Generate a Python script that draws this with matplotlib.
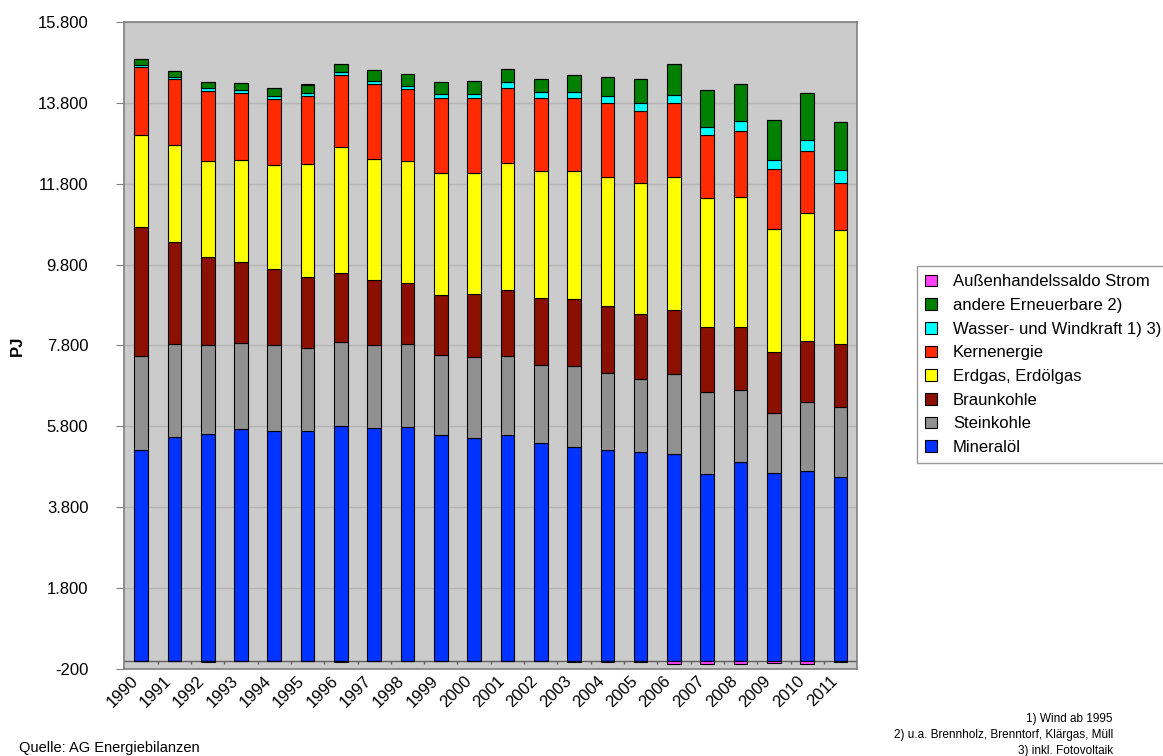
import matplotlib
matplotlib.use("Agg")
import matplotlib.pyplot as plt
import numpy as np

plt.rcParams['font.family'] = ['Liberation Sans', 'DejaVu Sans']

years = [str(y) for y in range(1990, 2012)]

# PJ
mineraloel = [5222, 5527, 5611, 5735, 5685, 5693, 5799, 5749, 5774, 5594, 5502,
              5586, 5378, 5289, 5222, 5173, 5123, 4628, 4908, 4646, 4685, 4547]
steinkohle = [2310, 2319, 2193, 2128, 2136, 2046, 2096, 2064, 2064, 1962, 2014,
              1946, 1931, 2012, 1906, 1799, 1963, 2022, 1799, 1485, 1718, 1732]
braunkohle = [3192, 2524, 2187, 1995, 1864, 1748, 1700, 1609, 1518, 1485, 1560,
              1643, 1675, 1651, 1641, 1599, 1584, 1617, 1560, 1517, 1517, 1567]
erdgas = [2287, 2394, 2367, 2517, 2566, 2789, 3119, 2985, 3012, 3012, 2977,
          3126, 3126, 3168, 3193, 3242, 3302, 3175, 3200, 3037, 3168, 2804]
kernenergie = [1673, 1616, 1733, 1676, 1651, 1683, 1765, 1857, 1764, 1857, 1857,
               1873, 1800, 1797, 1841, 1792, 1831, 1552, 1633, 1467, 1527, 1173]
wasser_wind = [60, 57, 66, 64, 65, 82, 82, 74, 82, 99, 115,
               139, 156, 149, 164, 181, 188, 215, 240, 240, 262, 312]
andere_ee = [138, 141, 156, 183, 198, 207, 198, 272, 306, 304, 305,
             314, 314, 420, 480, 594, 760, 899, 924, 980, 1174, 1188]
strom_saldo = [3, -3, -20, -12, 5, 17, -19, -8, -4, 5, 11,
               10, 3, -30, -28, -31, -72, -68, -81, -52, -64, -22]

series = [
    ("Mineralöl", mineraloel, "#0033ff"),
    ("Steinkohle", steinkohle, "#909090"),
    ("Braunkohle", braunkohle, "#8c1000"),
    ("Erdgas, Erdölgas", erdgas, "#ffff00"),
    ("Kernenergie", kernenergie, "#ff2a00"),
    ("Wasser- und Windkraft 1) 3)", wasser_wind, "#00ffff"),
    ("andere Erneuerbare 2)", andere_ee, "#008000"),
    ("Außenhandelssaldo Strom", strom_saldo, "#ff40ff"),
]

fig = plt.figure(figsize=(11.63, 7.56), dpi=100)
ax = fig.add_axes([0.107, 0.115, 0.630, 0.856])
ax.set_facecolor("#cbcbcb")

x = np.arange(len(years))
width = 0.41
pos_base = np.zeros(len(years))
neg_base = np.zeros(len(years))
for name, vals, col in series:
    v = np.array(vals, dtype=float)
    pos = np.where(v > 0, v, 0)
    neg = np.where(v < 0, v, 0)
    ax.bar(x, pos, width, bottom=pos_base, color=col, edgecolor="black",
           linewidth=0.8, label=name, zorder=3)
    if neg.any():
        ax.bar(x, neg, width, bottom=neg_base, color=col, edgecolor="black",
               linewidth=0.8, zorder=3)
    pos_base += pos
    neg_base += neg

ax.set_xlim(-0.5, len(years) - 0.5)
ax.set_ylim(-200, 15800)
yt = np.arange(-200, 15801, 2000)
ax.set_yticks(yt)
ax.set_yticklabels([f"{v:,}".replace(",", ".") for v in yt], fontsize=12)
ax.tick_params(axis="y", length=6, pad=20, color="#808080")
ax.set_xticks(x)
ax.set_xticklabels(years, rotation=45, ha="right", fontsize=12)
ax.tick_params(axis="x", length=0, pad=3)
ax.yaxis.grid(True, color="#b4b4b4", linewidth=1, zorder=0)
ax.set_axisbelow(True)
for s in ax.spines.values():
    s.set_color("#808080")
    s.set_linewidth(1.2)

# category axis sits at zero
ax.axhline(0, color="#606060", linewidth=1, zorder=2)
ax.vlines(x[:-1] + 0.5, -70, 0, color="#606060", linewidth=1, zorder=2)

ax.set_ylabel("PJ", fontsize=12, fontweight="bold", labelpad=9)

handles, labels = ax.get_legend_handles_labels()
leg = fig.legend(handles[::-1], labels[::-1], loc="upper left",
                 bbox_to_anchor=(0.7885, 0.648), fontsize=12, frameon=True,
                 fancybox=False, edgecolor="#808080", handlelength=0.7,
                 handleheight=0.7, handletextpad=0.95, labelspacing=0.52,
                 borderpad=0.5, borderaxespad=0)
leg.get_frame().set_linewidth(1)

fig.text(0.957, 0.049, "1) Wind ab 1995", ha="right", va="center", fontsize=8.5)
fig.text(0.957, 0.028, "2) u.a. Brennholz, Brenntorf, Klärgas, Müll", ha="right",
         va="center", fontsize=8.5)
fig.text(0.957, 0.007, "3) inkl. Fotovoltaik", ha="right", va="center", fontsize=8.5)
fig.text(0.016, 0.011, "Quelle: AG Energiebilanzen", ha="left", va="center", fontsize=10.5)

fig.savefig("out.png", dpi=100)
